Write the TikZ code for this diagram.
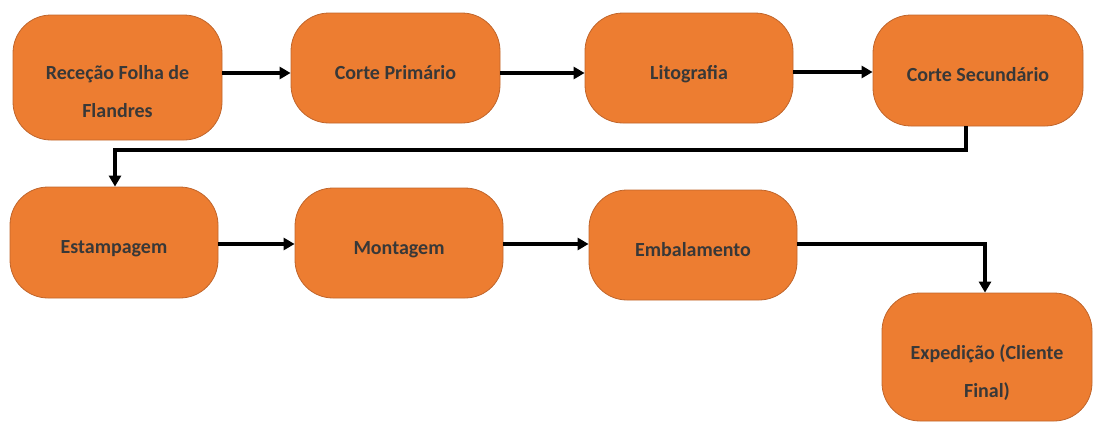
\documentclass[tikz,border=0pt]{standalone}
\usepackage{fontspec}
\setmainfont{Carlito}
\usetikzlibrary{arrows.meta}
\definecolor{boxfill}{HTML}{ED7D31}
\definecolor{boxedge}{HTML}{C0652B}
\definecolor{boxtext}{HTML}{383838}
\tikzset{
  box/.style={draw=boxedge, line width=0.8pt, fill=boxfill, rounded corners=38pt,
    text=boxtext, font=\bfseries\fontsize{20}{24}\selectfont, inner sep=0pt},
  arr/.style={draw=black, line width=3.4pt, -{Triangle[length=11pt,width=12pt]}},
}
% one-line label, baseline lowered below the box centre
\newcommand{\oneline}[1]{\raisebox{-11pt}[0pt][0pt]{#1}}
% two-line label, first baseline near the box centre
\newcommand{\twolines}[2]{\raisebox{-2pt}[0pt][0pt]{\renewcommand{\arraystretch}{1}%
  \begin{tabular}[t]{@{}c@{}}#1\\[14pt]#2\end{tabular}}}
\begin{document}
\begin{tikzpicture}[x=1pt,y=-1pt]
\useasboundingbox (0,0) rectangle (1095,423);

% first row
\node[box, minimum width=209pt, minimum height=125pt] (b1) at (117.5,77.5) {\twolines{Receção Folha de}{Flandres}};
\node[box, minimum width=209pt, minimum height=110pt] (b2) at (395.5,68) {\oneline{Corte Primário}};
\node[box, minimum width=208pt, minimum height=110pt] (b3) at (689,68) {\oneline{Litografia}};
\node[box, minimum width=210pt, minimum height=111pt] (b4) at (978,70.5) {\oneline{Corte Secundário}};

% second row
\node[box, minimum width=208pt, minimum height=111pt] (b5) at (114,242.5) {\oneline{Estampagem}};
\node[box, minimum width=208pt, minimum height=110pt] (b6) at (399,243) {\oneline{Montagem}};
\node[box, minimum width=208pt, minimum height=110pt] (b7) at (693,245) {\oneline{Embalamento}};

% final step
\node[box, minimum width=210pt, minimum height=128pt] (b8) at (987,357) {\twolines{Expedição (Cliente}{Final)}};

% bends of the routed connectors
\coordinate (k1) at (115,150);
\coordinate (k2) at (985,244);

\draw[arr] ([yshift=-5pt]b2.west -| b1.east) -- ([yshift=-5pt]b2.west);
\draw[arr] ([yshift=-5pt]b2.east) -- ([yshift=-5pt]b3.west);
\draw[arr] ([yshift=-4pt]b3.east) -- ([yshift=-4pt]b3.east -| b4.west);
\draw[arr] ([xshift=-12pt]b4.south) |- (k1) -- (k1 |- b5.north);
\draw[arr] ([yshift=-1.5pt]b5.east) -- ([yshift=-1.5pt]b5.east -| b6.west);
\draw[arr] ([yshift=-1pt]b6.east) -- ([yshift=-1pt]b6.east -| b7.west);
\draw[arr] ([yshift=1pt]b7.east) -- (k2) -- (k2 |- b8.north);
\end{tikzpicture}
\end{document}
